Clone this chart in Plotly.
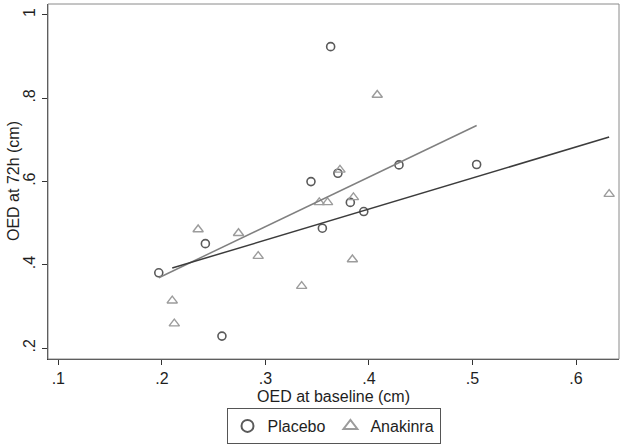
import numpy as np
import plotly.graph_objects as go

# Data
placebo_x = [0.197, 0.242, 0.258, 0.344, 0.370, 0.429, 0.382, 0.395, 0.355, 0.363, 0.504]
placebo_y = [0.381, 0.451, 0.229, 0.600, 0.620, 0.640, 0.550, 0.528, 0.488, 0.924, 0.641]

anakinra_x = [0.235, 0.274, 0.293, 0.210, 0.212, 0.335, 0.372, 0.352, 0.360, 0.385, 0.384, 0.408, 0.632]
anakinra_y = [0.485, 0.476, 0.421, 0.314, 0.259, 0.349, 0.628, 0.550, 0.550, 0.562, 0.413, 0.808, 0.570]

x_ticks = [0.1, 0.2, 0.3, 0.4, 0.5, 0.6]
x_tick_labels = [".1", ".2", ".3", ".4", ".5", ".6"]
y_ticks = [0.2, 0.4, 0.6, 0.8, 1.0]
y_tick_labels = [".2", ".4", ".6", ".8", "1"]

FONT = "Liberation Sans, Arial, sans-serif"
TXT = "#1e1e1e"


def fit_line(xs, ys):
    xs = np.asarray(xs)
    ys = np.asarray(ys)
    b, a = np.polyfit(xs, ys, 1)
    xx = np.array([xs.min(), xs.max()])
    return xx, a + b * xx


fig = go.Figure()

fig.add_trace(go.Scatter(
    x=placebo_x, y=placebo_y, mode="markers", name="Placebo",
    marker=dict(symbol="circle-open", size=8, color="#5a5a5a", line=dict(width=1.6)),
))
fig.add_trace(go.Scatter(
    x=anakinra_x, y=anakinra_y, mode="markers", name="Anakinra",
    marker=dict(symbol="triangle-up-open", size=9, color="#9c9c9c", line=dict(width=1.4)),
))

px_, py_ = fit_line(placebo_x, placebo_y)
fig.add_trace(go.Scatter(x=px_, y=py_, mode="lines", showlegend=False,
                         line=dict(color="#808080", width=1.5)))
ax_, ay_ = fit_line(anakinra_x, anakinra_y)
fig.add_trace(go.Scatter(x=ax_, y=ay_, mode="lines", showlegend=False,
                         line=dict(color="#3c3c3c", width=1.5)))

fig.add_shape(type="rect", xref="paper", yref="paper", x0=0, y0=0, x1=1, y1=1,
              line=dict(color="#8a8a8a", width=1), layer="above")

fig.add_annotation(
    text="OED at 72h (cm)", textangle=-90, showarrow=False,
    xref="paper", yref="paper", x=-0.0604, y=0.5, xanchor="center", yanchor="middle",
    font=dict(family=FONT, size=16, color=TXT),
)

fig.update_layout(
    width=624, height=448,
    margin=dict(l=48, r=5, t=4, b=89),
    paper_bgcolor="white", plot_bgcolor="white",
    font=dict(family=FONT, size=16, color=TXT),
    showlegend=True,
    legend=dict(
        orientation="h", x=0.5, xanchor="center", y=-0.2394, yanchor="bottom",
        bordercolor="#555555", borderwidth=1, bgcolor="white",
        font=dict(family=FONT, size=16, color=TXT),
        itemsizing="constant",
    ),
    xaxis=dict(
        range=[0.09, 0.6415], tickvals=x_ticks, ticktext=x_tick_labels,
        showgrid=False, zeroline=False, automargin=False,
        showline=True, linecolor="#333333", linewidth=1.3,
        ticks="outside", ticklen=5, tickcolor="#333333", tickwidth=1,
        title=dict(text="OED at baseline (cm)", standoff=4, font=dict(size=16)),
        tickfont=dict(size=16),
    ),
    yaxis=dict(
        range=[0.174, 1.0264], tickvals=y_ticks, ticktext=y_tick_labels,
        showgrid=False, zeroline=False, automargin=False,
        showline=True, linecolor="#333333", linewidth=1.3,
        ticks="outside", ticklen=5, tickcolor="#333333", tickwidth=1,
        tickangle=-90, ticklabelstandoff=0,
        tickfont=dict(size=16),
    ),
)

fig.write_html(
    "out.html",
    config={"displayModeBar": False},
    post_script="document.body.style.margin='0';document.body.style.overflow='hidden';",
)
